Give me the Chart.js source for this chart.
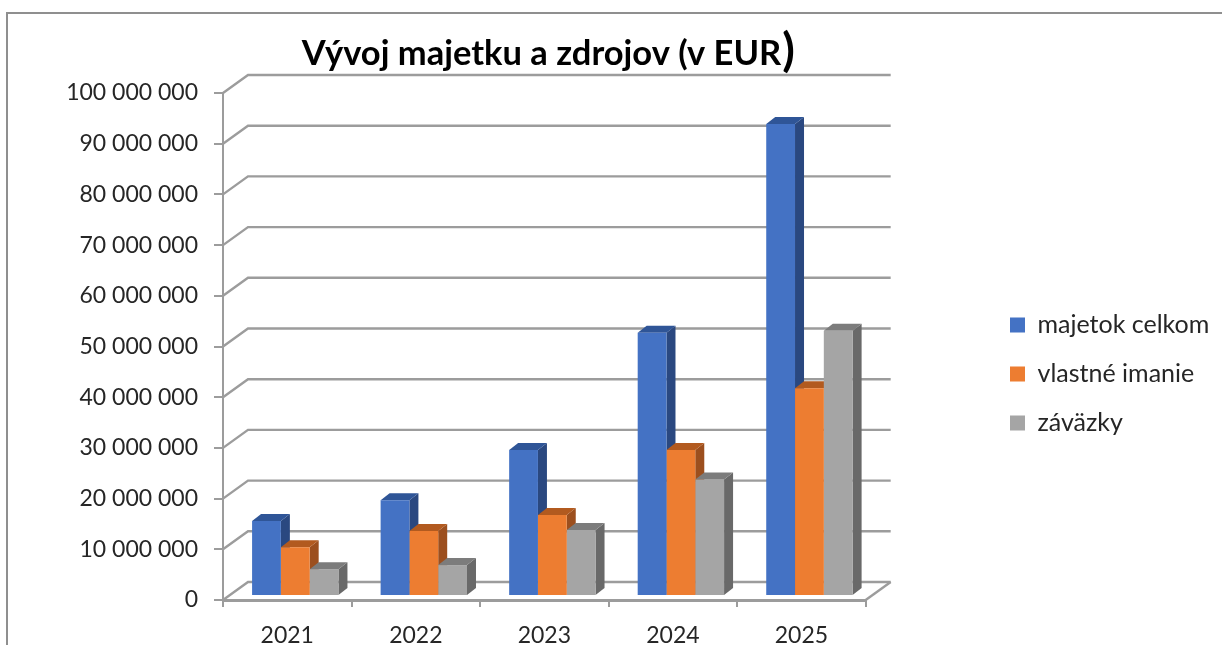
<!DOCTYPE html>
<html>
<head>
<meta charset="utf-8">
<title>Vývoj majetku a zdrojov</title>
<script src="https://cdn.jsdelivr.net/npm/chart.js@4"></script>
<style>
    html, body { margin: 0; padding: 0; background: #fff; overflow: hidden; }
    #wrap { position: relative; width: 1222px; height: 645px; }
    #frame { position: absolute; left: 6px; top: 12px; right: 0; bottom: 0; border-top: 2px solid #8f8f8f; border-left: 2px solid #8f8f8f; }
    canvas { position: absolute; left: 0; top: 0; filter: blur(0.4px); }
</style>
</head>
<body>
<div id="wrap">
    <div id="frame"></div>
    <canvas id="assetsChart" width="1222" height="645"></canvas>
</div>
<script>
const years = ['2021', '2022', '2023', '2024', '2025'];
const majetokCelkom = [14800000, 18900000, 28800000, 51900000, 93100000];
const vlastneImanie = [9600000, 12800000, 16000000, 28800000, 41000000];
const zavazky = [5300000, 6100000, 13000000, 23000000, 52300000];
const seriesNames = ['majetok celkom', 'vlastné imanie', 'záväzky'];
const seriesColors = ['#4472C4', '#ED7D31', '#A5A5A5'];
const sideColors = ['#2A4880', '#9C4F1E', '#696969'];
const topColors = ['#2F5597', '#B25A1F', '#7C7C7C'];
const titleText = 'Vývoj majetku a zdrojov (v EUR';

const FONT = 'Lato, Carlito, sans-serif';
const GRID = '#9c9c9c';
const WALL_X = 25, WALL_Y = 18;   // back wall offset
const BAR_X = 8, BAR_Y = 4;       // bars sit a bit inside the floor
const DEPTH_X = 9, DEPTH_Y = 7;   // bar depth

const fake3d = {
    id: 'fake3d',
    afterLayout(chart) {
        // legend sits away from the plot, not right next to it
        const legend = chart.legend;
        const w = legend.right - legend.left;
        legend.left = 986;
        legend.right = 986 + w;
        legend.top += 35;
        legend.bottom += 35;
        // title is centred on the whole picture minus the legend gap
        chart.titleBlock.left -= 8;
        chart.titleBlock.right -= 8;
    },
    beforeDatasetsDraw(chart) {
        const { ctx, chartArea, scales } = chart;
        ctx.save();
        ctx.strokeStyle = GRID;
        ctx.lineWidth = 2.4;
        scales.y.ticks.forEach(t => {
            const p = scales.y.getPixelForValue(t.value);
            ctx.beginPath();
            ctx.moveTo(chartArea.left, p);
            ctx.lineTo(chartArea.left + WALL_X, p - WALL_Y);
            ctx.lineTo(chartArea.right + WALL_X, p - WALL_Y);
            ctx.stroke();
        });
        ctx.beginPath();
        ctx.moveTo(chartArea.right, chartArea.bottom);
        ctx.lineTo(chartArea.right + WALL_X, chartArea.bottom - WALL_Y);
        ctx.stroke();
        ctx.restore();

        ctx.save();
        ctx.translate(BAR_X, -BAR_Y);
        // sides and tops first, left to right, the front faces come on top
        chart.data.labels.forEach((label, i) => {
            chart.data.datasets.forEach((ds, d) => {
                const bar = chart.getDatasetMeta(d).data[i];
                const r = bar.x + bar.width / 2;
                const l = bar.x - bar.width / 2;
                ctx.fillStyle = sideColors[d];
                ctx.beginPath();
                ctx.moveTo(r, bar.y);
                ctx.lineTo(r + DEPTH_X, bar.y - DEPTH_Y);
                ctx.lineTo(r + DEPTH_X, bar.base - DEPTH_Y);
                ctx.lineTo(r, bar.base);
                ctx.fill();
                ctx.fillStyle = topColors[d];
                ctx.beginPath();
                ctx.moveTo(l, bar.y);
                ctx.lineTo(l + DEPTH_X, bar.y - DEPTH_Y);
                ctx.lineTo(r + DEPTH_X, bar.y - DEPTH_Y);
                ctx.lineTo(r, bar.y);
                ctx.fill();
            });
        });
    },
    afterDatasetsDraw(chart) {
        chart.ctx.restore();
    },
    afterDraw(chart) {
        // the closing bracket is bigger in the original title
        const { ctx } = chart;
        const title = chart.titleBlock;
        ctx.save();
        ctx.font = 'bold 34.5px ' + FONT;
        const w = ctx.measureText(titleText).width;
        const x = (title.left + title.right) / 2 + w / 2;
        ctx.font = 'bold 46px ' + FONT;
        ctx.fillStyle = '#000';
        ctx.textBaseline = 'alphabetic';
        ctx.fillText(')', x + 1, title.top + 33);
        ctx.restore();
    }
};

new Chart(document.getElementById('assetsChart'), {
    type: 'bar',
    data: {
        labels: years,
        datasets: [majetokCelkom, vlastneImanie, zavazky].map((values, d) => ({
            label: seriesNames[d],
            data: values,
            backgroundColor: seriesColors[d],
            categoryPercentage: 0.672,
            barPercentage: 1,
            clip: false
        }))
    },
    plugins: [fake3d],
    options: {
        responsive: false,
        animation: false,
        layout: { padding: { top: 33, left: 0, right: 123, bottom: 0 } },
        plugins: {
            title: {
                display: true,
                text: titleText,
                color: '#000',
                font: { family: FONT, size: 34.5, weight: 'bold' },
                padding: { top: 0, bottom: 18.6 }
            },
            legend: {
                position: 'right',
                labels: {
                    boxWidth: 15,
                    boxHeight: 15,
                    color: '#262626',
                    padding: 24,
                    font: { family: FONT, size: 25 }
                }
            },
            tooltip: { enabled: false }
        },
        scales: {
            x: {
                afterFit(scale) { scale.height = 45; },
                grid: { drawOnChartArea: false, tickLength: 7, color: GRID, lineWidth: 2 },
                border: { color: GRID, width: 3 },
                ticks: { color: '#262626', padding: 15, font: { family: FONT, size: 23 } }
            },
            y: {
                min: 0,
                max: 100000000,
                afterFit(scale) { scale.width = 223; },
                grid: { drawOnChartArea: false, tickLength: 9, color: GRID, lineWidth: 2 },
                border: { color: GRID, width: 2 },
                ticks: {
                    stepSize: 10000000,
                    color: '#262626',
                    padding: 16,
                    font: { family: FONT, size: 23 },
                    callback: v => String(v).replace(/\B(?=(\d{3})+$)/g, ' ')
                }
            }
        }
    }
});
</script>
</body>
</html>
